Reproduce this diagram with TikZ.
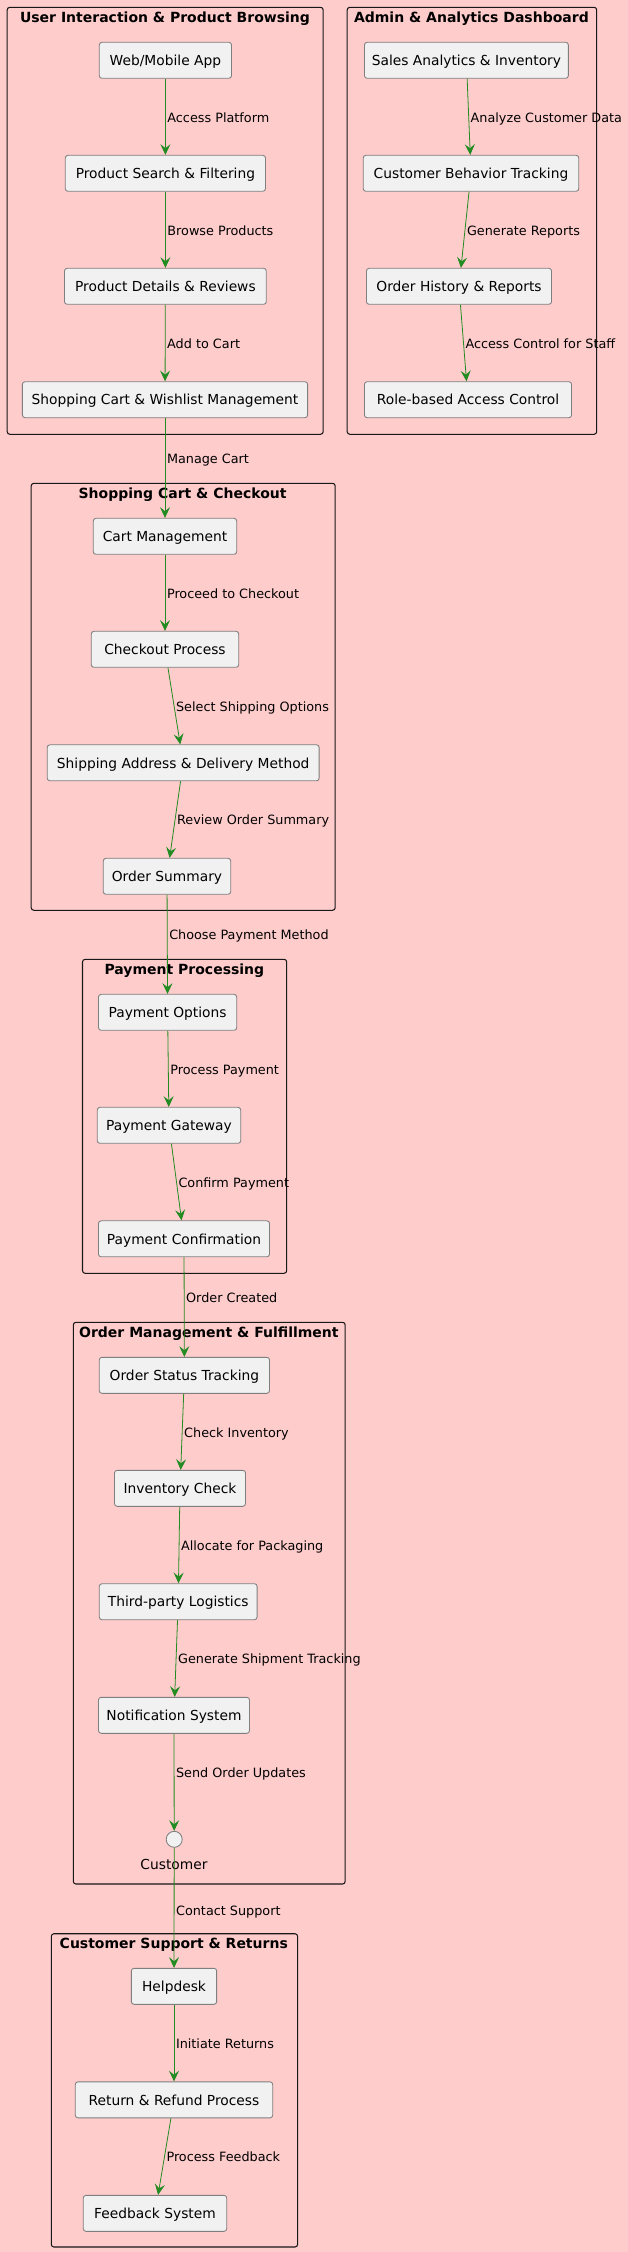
\documentclass[tikz,border=0pt]{standalone}
\usepackage{fontspec}
\setmainfont{DejaVu Sans}
\usetikzlibrary{arrows.meta}
\definecolor{bgpink}{HTML}{FFCCCC}
\definecolor{boxfill}{HTML}{F1F1F1}
\definecolor{boxline}{HTML}{7F7F7F}
\definecolor{arrgreen}{HTML}{228B22}
\definecolor{clusterline}{HTML}{181818}
\newcommand{\nodefnt}{\fontsize{10.35pt}{12pt}\selectfont}
\newcommand{\lblfnt}{\fontsize{9.6pt}{11pt}\selectfont}
\newcommand{\ttlfnt}{\fontsize{10.5pt}{12pt}\selectfont\bfseries}
\begin{document}
\begin{tikzpicture}[x=0.75pt,y=-0.75pt,
  proc/.style={draw=boxline, fill=boxfill, line width=0.65pt, rounded corners=2pt,
    minimum height=27pt, inner sep=0pt, text height=1em, text depth=0.21em, font=\nodefnt},
  bw/.style={minimum width=#1*0.75pt},
  cluster/.style={draw=clusterline, line width=0.8pt, rounded corners=2pt},
  ttl/.style={anchor=base, inner sep=0pt, font=\ttlfnt},
  arr/.style={draw=arrgreen, line width=0.6pt, -{Stealth[length=8pt, width=7.5pt, inset=3pt]}},
  lbl/.style={pos=0.5, anchor=west, xshift=1.2pt, inner sep=0pt, text height=1em, text depth=0.21em, font=\lblfnt},
  circ/.style={circle, draw=boxline, fill=boxfill, line width=0.65pt, minimum size=12pt, inner sep=0pt}
]
\useasboundingbox (0,0) rectangle (628,2252);
\fill[bgpink] (0,0) rectangle (628,2252);

% clusters
\draw[cluster] (7.2,7.3) rectangle (323.2,434.3);
\node[ttl] (t1) at (165,22) {User Interaction \& Product Browsing};
\draw[cluster] (347.2,7.3) rectangle (596.7,434.3);
\node[ttl] (t2) at (471.4,22) {Admin \& Analytics Dashboard};
\draw[cluster] (31.2,483.3) rectangle (335.2,910.3);
\node[ttl] (t3) at (182.6,498.2) {Shopping Cart \& Checkout};
\draw[cluster] (82.5,959.3) rectangle (286.7,1273.3);
\node[ttl] (t4) at (184.4,974.2) {Payment Processing};
\draw[cluster] (73.3,1322.3) rectangle (345.2,1884);
\node[ttl] (t5) at (208.9,1337.2) {Order Management \& Fulfillment};
\draw[cluster] (51.3,1933.7) rectangle (297.6,2247);
\node[ttl] (t6) at (173.8,1948.6) {Customer Support \& Returns};

% nodes
\node[proc,bw=132.2] (web) at (165.4,60.3) {Web/Mobile App};
\node[proc,bw=200.2] (search) at (165.4,173.3) {Product Search \& Filtering};
\node[proc,bw=201.8] (details) at (165.4,286.3) {Product Details \& Reviews};
\node[proc,bw=285.2] (cart) at (165,399.7) {Shopping Cart \& Wishlist Management};

\node[proc,bw=203.9] (sales) at (466.4,60.3) {Sales Analytics \& Inventory};
\node[proc,bw=215.5] (behavior) at (471,173.3) {Customer Behavior Tracking};
\node[proc,bw=185.1] (history) at (459,286.3) {Order History \& Reports};
\node[proc,bw=207.1] (role) at (468,399.7) {Role-based Access Control};

\node[proc,bw=143.4] (cartmgmt) at (165,536.3) {Cart Management};
\node[proc,bw=147.4] (checkout) at (165,649.3) {Checkout Process};
\node[proc,bw=271.9] (shipping) at (183.2,762.8) {Shipping Address \& Delivery Method};
\node[proc,bw=127.4] (summary) at (167,876.3) {Order Summary};

\node[proc,bw=138.2] (payopt) at (167.6,1012.3) {Payment Options};
\node[proc,bw=143.4] (gateway) at (169,1125.3) {Payment Gateway};
\node[proc,bw=171] (confirm) at (184,1238.8) {Payment Confirmation};

\node[proc,bw=170.2] (status) at (184.4,1375.3) {Order Status Tracking};
\node[proc,bw=131] (invcheck) at (180,1488.3) {Inventory Check};
\node[proc,bw=157.8] (logistics) at (178.2,1601.7) {Third-party Logistics};
\node[proc,bw=151] (notif) at (174,1715.3) {Notification System};
\node[circ] (cust) at (174.2,1839.3) {};
\node[anchor=base, inner sep=0pt, font=\nodefnt] (custlbl) at (174,1869.3) {Customer};

\node[proc,bw=85.3] (helpdesk) at (174,1986.3) {Helpdesk};
\node[proc,bw=197.4] (refund) at (174,2099.8) {Return \& Refund Process};
\node[proc,bw=143.4] (feedback) at (155,2213.3) {Feedback System};

% edges
\draw[arr] (web) -- node[lbl]{Access Platform} (search);
\draw[arr] (search) -- node[lbl]{Browse Products} (details);
\draw[arr] (details) -- node[lbl]{Add to Cart} (cart);
\draw[arr] (cart) -- node[lbl,pos=0.406]{Manage Cart} (cartmgmt);

\draw[arr] (sales) -- node[lbl]{Analyze Customer Data} (behavior);
\draw[arr] (behavior) -- node[lbl]{Generate Reports} (history);
\draw[arr] (history) -- node[lbl]{Access Control for Staff} (role);

\draw[arr] (cartmgmt) -- node[lbl]{Proceed to Checkout} (checkout);
\draw[arr] (checkout) -- node[lbl]{Select Shipping Options} (shipping);
\draw[arr] (shipping) -- node[lbl]{Review Order Summary} (summary);
\draw[arr] (summary) -- node[lbl,pos=0.395]{Choose Payment Method} (payopt);

\draw[arr] (payopt) -- node[lbl]{Process Payment} (gateway);
\draw[arr] (gateway) -- node[lbl]{Confirm Payment} (confirm);
\draw[arr] (confirm) -- node[lbl,pos=0.4]{Order Created} (status);

\draw[arr] (status) -- node[lbl]{Check Inventory} (invcheck);
\draw[arr] (invcheck) -- node[lbl]{Allocate for Packaging} (logistics);
\draw[arr] (logistics) -- node[lbl]{Generate Shipment Tracking} (notif);
\draw[arr] (notif) -- node[lbl,pos=0.398]{Send Order Updates} (cust);
\draw[arr] (cust) -- node[lbl,pos=0.516]{Contact Support} (helpdesk);

\draw[arr] (helpdesk) -- node[lbl]{Initiate Returns} (refund);
\draw[arr] (refund) -- node[lbl]{Process Feedback} (feedback);
\end{tikzpicture}
\end{document}
